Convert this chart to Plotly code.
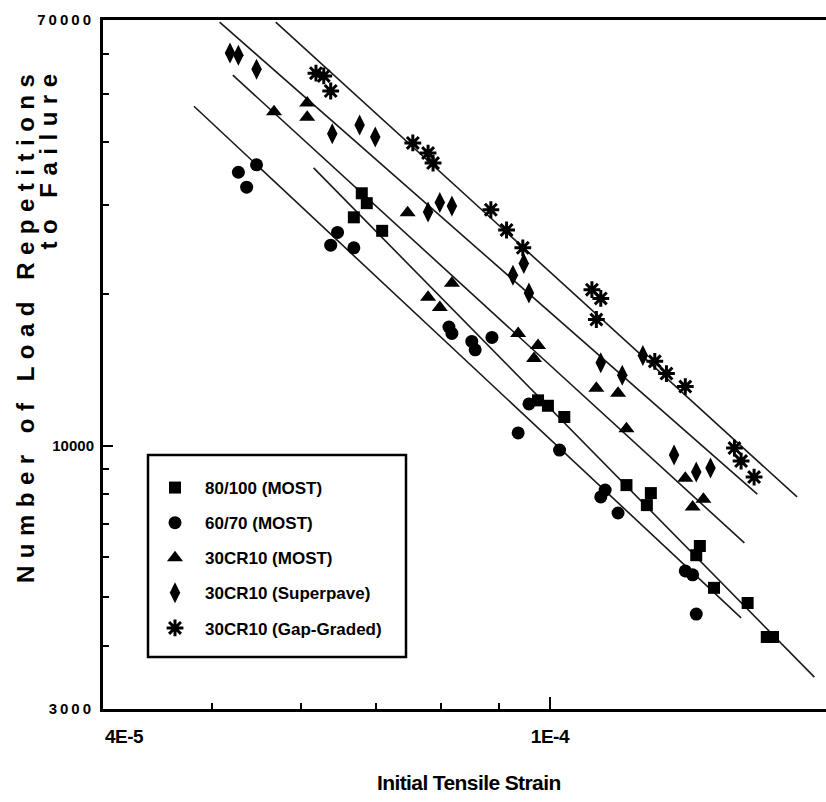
import plotly.graph_objects as go

# ---------------- data ----------------
series_names = ["80/100 (MOST)", "60/70 (MOST)", "30CR10 (MOST)",
                "30CR10 (Superpave)", "30CR10 (Gap-Graded)"]

sq_x = [6.80e-5, 6.87e-5, 6.69e-5, 7.09e-5, 9.76e-5, 9.96e-5, 1.03e-4, 1.17e-4,
        1.23e-4, 1.22e-4, 1.36e-4, 1.35e-4, 1.40e-4, 1.50e-4, 1.56e-4, 1.58e-4]
sq_y = [31700, 30300, 28400, 26700, 12300, 12000, 11400, 8350,
        8050, 7620, 6320, 6060, 5220, 4870, 4170, 4170]

ci_x = [5.28e-5, 5.37e-5, 5.48e-5, 6.47e-5, 6.38e-5, 6.69e-5, 8.13e-5, 8.18e-5,
        8.52e-5, 8.58e-5, 8.88e-5, 9.58e-5, 9.37e-5, 1.02e-4, 1.12e-4, 1.11e-4,
        1.15e-4, 1.32e-4, 1.34e-4, 1.35e-4]
ci_y = [34900, 32600, 36100, 26500, 25000, 24700, 17200, 16700,
        16100, 15500, 16400, 12100, 10600, 9800, 8160, 7910,
        7350, 5640, 5540, 4630]

tr_x = [5.68e-5, 6.08e-5, 6.08e-5, 7.47e-5, 7.79e-5, 7.98e-5, 8.18e-5, 9.37e-5,
        9.76e-5, 9.68e-5, 1.10e-4, 1.15e-4, 1.17e-4, 1.32e-4, 1.34e-4, 1.37e-4]
tr_y = [46000, 47900, 44900, 29000, 19700, 18800, 21000, 16700,
        15800, 14900, 13000, 12700, 10800, 8620, 7550, 7830]

di_x = [5.19e-5, 5.28e-5, 5.48e-5, 6.40e-5, 6.77e-5, 6.99e-5, 7.79e-5, 7.98e-5,
        8.18e-5, 9.27e-5, 9.48e-5, 9.58e-5, 1.11e-4, 1.16e-4, 1.21e-4, 1.29e-4,
        1.35e-4, 1.39e-4]
di_y = [60200, 59600, 55900, 41600, 43300, 41000, 29100, 30400,
        29900, 21800, 23000, 20100, 14600, 13800, 15100, 9580,
        8860, 9030]

gg_x = [6.19e-5, 6.29e-5, 6.38e-5, 7.55e-5, 7.79e-5, 7.87e-5, 8.86e-5, 9.15e-5,
        9.46e-5, 1.09e-4, 1.11e-4, 1.10e-4, 1.24e-4, 1.27e-4, 1.32e-4, 1.46e-4,
        1.48e-4, 1.52e-4]
gg_y = [54900, 54200, 50600, 39900, 38100, 36400, 29400, 26800,
        24700, 20400, 19600, 17800, 14700, 13900, 13100, 9890,
        9320, 8660]

# fitted regression lines (start / end of each drawn line)
fit_x0 = [6.16e-5, 4.82e-5, 5.22e-5, 5.08e-5, 5.70e-5]
fit_x1 = [1.72e-4, 1.48e-4, 1.49e-4, 1.53e-4, 1.66e-4]
fit_y0 = [35600, 47200, 54400, 69300, 69300]
fit_y1 = [3470, 4550, 6410, 8010, 7910]

x_tick_vals = [1e-4]
x_tick_text = ["<span style='letter-spacing:-0.5px'>1E-4</span>"]
x_minor_vals = [5e-5, 6e-5, 7e-5, 8e-5, 9e-5]
y_tick_vals = [3000, 10000, 70000]
y_tick_text = ["<span style='letter-spacing:3px'>3000</span>", "10000",
               "<span style='letter-spacing:3px'>70000</span>"]
y_minor_vals = [4000, 5000, 6000, 7000, 8000, 9000, 20000, 30000, 40000, 50000, 60000]

# ---------------- figure ----------------
W, H = 826, 802
L, R, T, B = 103, 0, 20, 93
PW, PH = W - L - R, H - T - B


def px(xp):
    return (xp - L) / PW


def py(yp):
    return (H - B - yp) / PH


FONT = "Liberation Sans, Arial, sans-serif"

fig = go.Figure()

for i in range(5):
    fig.add_trace(go.Scatter(
        x=[fit_x0[i], fit_x1[i]], y=[fit_y0[i], fit_y1[i]], mode="lines",
        line=dict(color="#1a1a1a", width=1.6), showlegend=False, hoverinfo="skip"))

marker_specs = [
    (sq_x, sq_y, dict(symbol="square", size=12, color="black")),
    (ci_x, ci_y, dict(symbol="circle", size=13, color="black")),
    (tr_x, tr_y, dict(symbol="triangle-up", size=14, color="black")),
    (di_x, di_y, dict(symbol="diamond-tall", size=15, color="black")),
    (gg_x, gg_y, dict(symbol="asterisk-open", size=14, color="black",
                      line=dict(color="black", width=3))),
]
for i, (xs, ys, mk) in enumerate(marker_specs):
    fig.add_trace(go.Scatter(x=xs, y=ys, mode="markers", marker=mk,
                             name=series_names[i], legendgroup=f"g{i}"))

fig.update_layout(
    width=W, height=H, margin=dict(l=L, r=R, t=T, b=B, autoexpand=False),
    paper_bgcolor="white", plot_bgcolor="white",
    showlegend=True,
    legend=dict(x=px(145), y=py(470), xanchor="left", yanchor="top",
                font=dict(family=FONT, size=17, color="black", weight="bold"),
                bgcolor="rgba(0,0,0,0)", borderwidth=0,
                tracegroupgap=10, itemwidth=50),
    shapes=[dict(type="rect", xref="paper", yref="paper",
                 x0=px(148), x1=px(406), y0=py(657), y1=py(455),
                 line=dict(color="black", width=2.5))],
    annotations=[
        dict(text="<span style='letter-spacing:-0.5px'>4E-5</span>",
             xref="paper", yref="paper", x=px(103), y=py(736),
             xanchor="left", yanchor="middle", showarrow=False,
             font=dict(family=FONT, size=19, color="black", weight="bold")),
        dict(text="<span style='letter-spacing:-0.6px'>Initial Tensile Strain</span>",
             xref="paper", yref="paper", x=px(469), y=py(782),
             xanchor="center", yanchor="middle", showarrow=False,
             font=dict(family=FONT, size=21, color="black", weight="bold")),
        dict(text="<span style='letter-spacing:7.5px'>Number of Load Repetitions</span>",
             xref="paper", yref="paper", x=px(25), y=py(65), textangle=-90,
             xanchor="center", yanchor="top", showarrow=False,
             font=dict(family=FONT, size=24, color="black", weight="bold")),
        dict(text="<span style='letter-spacing:7.5px'>to Failure</span>",
             xref="paper", yref="paper", x=px(48), y=py(65), textangle=-90,
             xanchor="center", yanchor="top", showarrow=False,
             font=dict(family=FONT, size=24, color="black", weight="bold")),
    ],
)

fig.update_xaxes(
    type="log", range=[-4.39794, -4.39794 + PW / 1123.0], automargin=False,
    showline=True, linewidth=3, linecolor="black", mirror=True,
    showgrid=False, zeroline=False,
    ticks="inside", ticklen=12, tickwidth=2, tickcolor="black",
    tickmode="array", tickvals=x_tick_vals, ticktext=x_tick_text,
    ticklabelstandoff=8,
    tickfont=dict(family=FONT, size=19, color="black", weight="bold"),
    minor=dict(tickmode="array", tickvals=x_minor_vals, ticks="inside",
               ticklen=6, tickwidth=1.5, tickcolor="black", showgrid=False),
)
fig.update_yaxes(
    type="log", range=[3.47712, 4.84510], automargin=False,
    showline=True, linewidth=3, linecolor="black", mirror=False,
    showgrid=False, zeroline=False,
    ticks="inside", ticklen=10, tickwidth=2, tickcolor="black",
    tickmode="array", tickvals=y_tick_vals, ticktext=y_tick_text,
    ticklabelstandoff=3,
    tickfont=dict(family=FONT, size=15, color="black", weight="bold"),
    minor=dict(tickmode="array", tickvals=y_minor_vals, ticks="inside",
               ticklen=6, tickwidth=1.5, tickcolor="black", showgrid=False),
)

fig.write_html("out.html", config={"displayModeBar": False},
               post_script="document.body.style.margin='0';document.body.style.overflow='hidden';")
